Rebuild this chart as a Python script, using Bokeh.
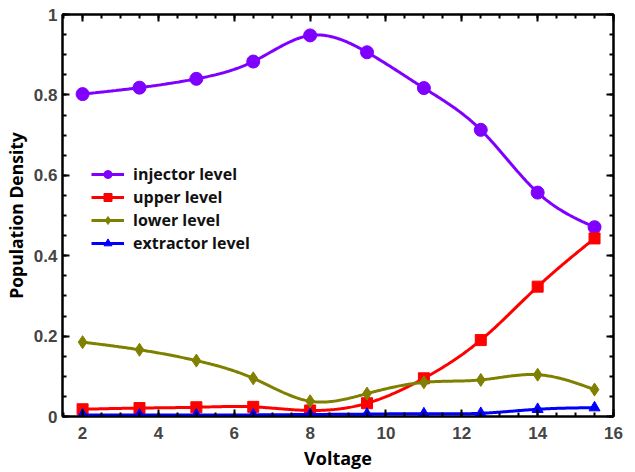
import numpy as np
from bokeh.plotting import figure
from bokeh.models import (Range1d, FixedTicker, LinearAxis, Legend, LegendItem,
                          CustomJSTickFormatter)
from bokeh.embed import file_html
from bokeh.resources import INLINE

# ---- data ----
voltage = [2, 3.5, 5, 6.5, 8, 9.5, 11, 12.5, 14, 15.5]
injector = [0.802, 0.818, 0.840, 0.883, 0.948, 0.906, 0.817, 0.713, 0.557, 0.471]
upper = [0.018, 0.021, 0.023, 0.024, 0.015, 0.033, 0.095, 0.190, 0.323, 0.443]
lower = [0.185, 0.166, 0.139, 0.095, 0.038, 0.057, 0.085, 0.091, 0.104, 0.067]
extractor = [0.004, 0.004, 0.004, 0.004, 0.005, 0.006, 0.007, 0.008, 0.018, 0.022]

series_names = ["injector level", "upper level", "lower level", "extractor level"]
x_ticks = [2, 4, 6, 8, 10, 12, 14, 16]
y_ticks = [0, 0.2, 0.4, 0.6, 0.8, 1]
y_tick_labels = ["0", "0.2", "0.4", "0.6", "0.8", "1"]


def smooth(x, y, n=400):
    """Natural cubic spline through the data points (for the drawn line)."""
    x = np.asarray(x, float)
    y = np.asarray(y, float)
    k = len(x)
    h = np.diff(x)
    A = np.zeros((k, k))
    b = np.zeros(k)
    A[0, 0] = 1
    A[-1, -1] = 1
    for i in range(1, k - 1):
        A[i, i - 1] = h[i - 1]
        A[i, i] = 2 * (h[i - 1] + h[i])
        A[i, i + 1] = h[i]
        b[i] = 6 * ((y[i + 1] - y[i]) / h[i] - (y[i] - y[i - 1]) / h[i - 1])
    M = np.linalg.solve(A, b)
    xs = np.linspace(x[0], x[-1], n)
    idx = np.clip(np.searchsorted(x, xs) - 1, 0, k - 2)
    hi = h[idx]
    t1 = x[idx + 1] - xs
    t0 = xs - x[idx]
    ys = (M[idx] * t1 ** 3 / (6 * hi) + M[idx + 1] * t0 ** 3 / (6 * hi)
          + (y[idx] / hi - M[idx] * hi / 6) * t1
          + (y[idx + 1] / hi - M[idx + 1] * hi / 6) * t0)
    return xs, ys


FONT = "Open Sans"
TICK_FONT = "Liberation Sans"

p = figure(width=627, height=472, output_backend="svg", toolbar_location=None,
           x_range=Range1d(1.47, 16), y_range=Range1d(0, 1),
           min_border_left=59, min_border_right=14, min_border_top=14,
           min_border_bottom=48)
p.xgrid.visible = False
p.ygrid.visible = False
p.outline_line_color = "black"
p.outline_line_width = 2

x_minor = list(np.arange(1.5, 16.01, 0.5))
y_minor = list(np.arange(0, 1.001, 0.05))
xticker = FixedTicker(ticks=x_ticks, minor_ticks=x_minor)
yticker = FixedTicker(ticks=y_ticks, minor_ticks=y_minor)

p.xaxis.ticker = xticker
p.yaxis.ticker = yticker
p.yaxis.major_label_overrides = {t: lab for t, lab in zip(y_ticks, y_tick_labels)}

for ax in (p.xaxis[0], p.yaxis[0]):
    ax.axis_line_width = 2
    ax.major_tick_line_width = 2
    ax.minor_tick_line_width = 2
    ax.major_tick_in = 7
    ax.major_tick_out = 0
    ax.minor_tick_in = 4
    ax.minor_tick_out = 0
    ax.major_label_text_font = TICK_FONT
    ax.major_label_text_font_style = "bold"
    ax.major_label_text_font_size = "17px"
    ax.major_label_text_color = "#444444"
    ax.axis_label_text_font = FONT
    ax.axis_label_text_font_style = "bold"
    ax.axis_label_text_font_size = "18px"
    ax.axis_label_text_color = "black"

p.yaxis.axis_label_text_font_size = "17.5px"
p.xaxis.axis_label = "Voltage"
p.yaxis.axis_label = "Population Density"
p.xaxis.major_label_standoff = 10
p.xaxis.axis_label_standoff = 4
p.yaxis.major_label_standoff = 5
p.yaxis.axis_label_standoff = 3

for loc, tk in (("above", xticker), ("right", yticker)):
    ax = LinearAxis(ticker=tk, formatter=CustomJSTickFormatter(code="return ''"))
    ax.axis_line_width = 2
    ax.major_tick_line_width = 2
    ax.minor_tick_line_width = 2
    ax.major_tick_in = 7
    ax.major_tick_out = 0
    ax.minor_tick_in = 4
    ax.minor_tick_out = 0
    ax.major_label_standoff = 0
    ax.major_label_text_font_size = "1px"
    p.add_layout(ax, loc)

colors = ["#8000FF", "#FF0000", "#808000", "#0000FF"]
values = [injector, upper, lower, extractor]
markers = [("circle", 13), ("square", 11), ("diamond", 13), ("triangle", 11)]

items = []
for name, col, vals, (mk, sz) in zip(series_names, colors, values, markers):
    xs, ys = smooth(voltage, vals)
    r1 = p.line(xs, ys, line_color=col, line_width=3)
    r2 = p.scatter(voltage, vals, marker=mk, size=sz,
                   fill_color=col, line_color=col)
    items.append(LegendItem(label=name, renderers=[r1, r2]))

legend = Legend(items=items, location=(29, 162))
legend.border_line_color = None
legend.background_fill_alpha = 0
legend.padding = 0
legend.margin = 0
legend.spacing = 1
legend.label_standoff = 9
legend.glyph_width = 33
legend.glyph_height = 20
legend.label_height = 20
legend.label_text_font = FONT
legend.label_text_font_style = "bold"
legend.label_text_font_size = "16px"
legend.label_text_color = "#111111"
p.add_layout(legend)

open("out.html", "w").write(file_html(p, INLINE))
